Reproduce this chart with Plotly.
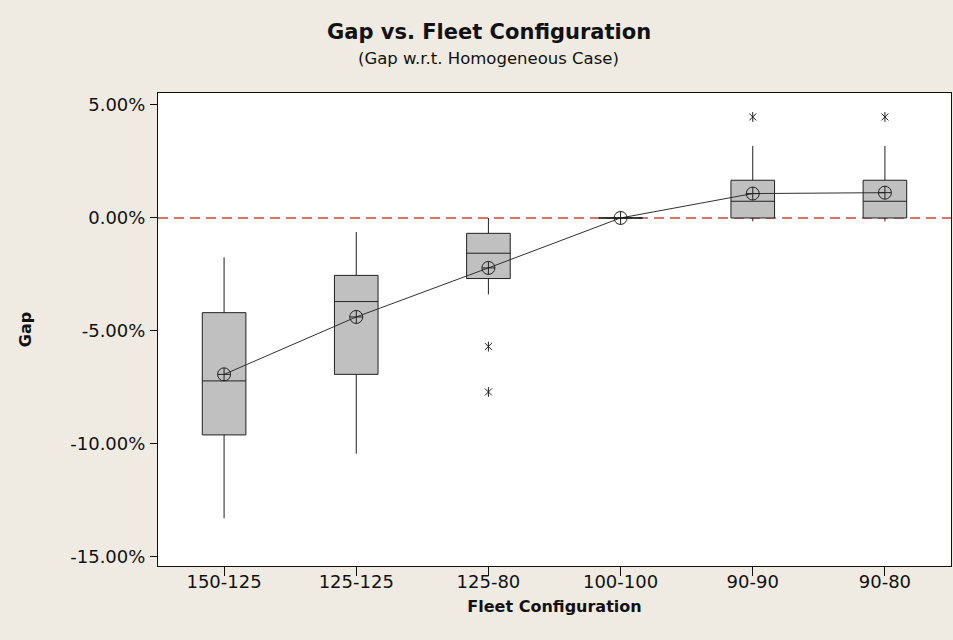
import plotly.graph_objects as go

categories = ["150-125", "125-125", "125-80", "100-100", "90-90", "90-80"]
q1 = [-9.60, -6.92, -2.68, 0.0, 0.0, 0.0]
median = [-7.21, -3.70, -1.56, 0.0, 0.74, 0.74]
q3 = [-4.19, -2.54, -0.68, 0.0, 1.67, 1.67]
lower_whisker = [-13.29, -10.43, -3.38, 0.0, -0.15, -0.15]
upper_whisker = [-1.74, -0.62, 0.0, 0.0, 3.19, 3.19]
means = [-6.92, -4.38, -2.21, 0.0, 1.08, 1.12]
outlier_x = ["125-80", "125-80", "90-90", "90-80"]
outlier_y = [-5.69, -7.70, 4.47, 4.47]
y_ticks = [5, 0, -5, -10, -15]
y_tick_labels = ["5.00%", "0.00%", "-5.00%", "-10.00%", "-15.00%"]

FONT = "DejaVu Sans"
BG = "#EFEBE2"

fig = go.Figure()

fig.add_trace(go.Box(
    x=categories, q1=q1, median=median, q3=q3,
    lowerfence=lower_whisker, upperfence=upper_whisker,
    fillcolor="#C0C0C0", line=dict(color="#202020", width=1),
    width=0.33, whiskerwidth=0, boxpoints=False, showlegend=False,
))

fig.add_trace(go.Scatter(
    x=categories, y=means, mode="lines+markers",
    line=dict(color="#303030", width=1),
    marker=dict(symbol="circle-cross-open", size=13, color="#202020",
                line=dict(width=1, color="#202020")),
    showlegend=False,
))

for sym in ["x-thin-open", "line-ns-open"]:
    fig.add_trace(go.Scatter(
        x=outlier_x, y=outlier_y, mode="markers",
        marker=dict(symbol=sym, size=7, color="#202020",
                    line=dict(width=1, color="#202020")),
        showlegend=False,
    ))

fig.add_shape(type="line", xref="paper", x0=0, x1=1, yref="y", y0=0, y1=0,
              line=dict(color="#D04444", width=1.5, dash="10px,6px"), layer="below")

fig.add_annotation(text="<b>Gap vs. Fleet Configuration</b>", xref="paper", yref="paper",
                   x=0.417, y=1.129, xanchor="center", yanchor="middle", showarrow=False,
                   font=dict(family=FONT, size=21, color="#111"))
fig.add_annotation(text="(Gap w.r.t. Homogeneous Case)", xref="paper", yref="paper",
                   x=0.417, y=1.072, xanchor="center", yanchor="middle", showarrow=False,
                   font=dict(family=FONT, size=16.5, color="#111"))

fig.update_layout(
    width=953, height=640,
    paper_bgcolor=BG, plot_bgcolor="white",
    margin=dict(l=158, r=2, t=93, b=74),
    font=dict(family=FONT, size=16, color="#111"),
    xaxis=dict(
        type="category", range=[-0.5, 5.5],
        showline=True, linecolor="#111", linewidth=1, mirror=True,
        ticks="outside", ticklen=9, tickcolor="#111", showgrid=False,
        title=dict(text="<b>Fleet Configuration</b>", font=dict(size=16), standoff=10),
        tickfont=dict(size=18), ticklabelstandoff=-10,
    ),
    yaxis=dict(
        range=[-15.40, 5.53], tickvals=y_ticks, ticktext=y_tick_labels,
        showline=True, linecolor="#111", linewidth=1, mirror=True,
        ticks="outside", ticklen=7, tickcolor="#111", showgrid=False, zeroline=False,
        title=dict(text="<b>Gap</b>", font=dict(size=16), standoff=34),
        tickfont=dict(size=18), ticklabelstandoff=1,
    ),
)

fig.write_html("out.html")
